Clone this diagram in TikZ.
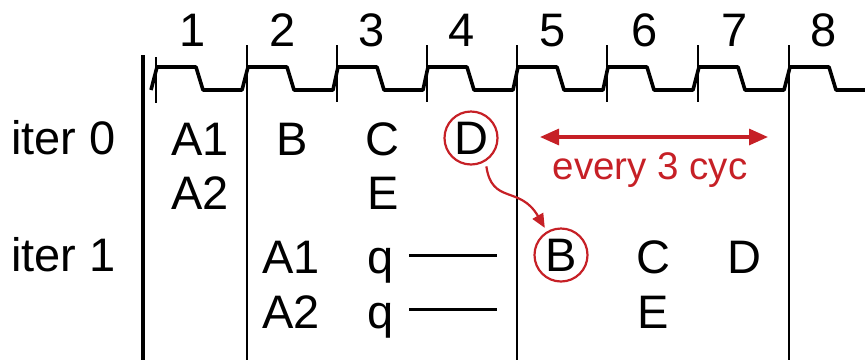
\documentclass[tikz,border=0pt]{standalone}
\usepackage{fontspec}
\setmainfont{Liberation Sans}
\usetikzlibrary{arrows.meta}
\definecolor{accent}{RGB}{198,32,38}

\begin{document}
\begin{tikzpicture}[x=1pt,y=-1pt,
  lbl/.style={inner sep=0pt, anchor=base, font=\fontsize{47}{56}\selectfont},
  lblw/.style={lbl, anchor=base west},
  note/.style={inner sep=0pt, anchor=base, text=accent, font=\fontsize{38.5}{46}\selectfont},
  wave/.style={line width=3.6pt, line join=round},
  tickline/.style={line width=1.6pt},
  divider/.style={line width=2pt},
  axis/.style={line width=3.8pt},
  ring/.style={circle, draw=accent, line width=2.2pt, minimum size=53pt, inner sep=0pt,
               font=\fontsize{47}{56}\selectfont},
  stub/.style={line width=3pt},
  span/.style={draw=accent, line width=3.2pt, {Triangle[length=19pt,width=16pt]}-{Triangle[length=19pt,width=16pt]}},
  hop/.style={draw=accent, line width=2.2pt, -{Triangle[length=14pt,width=12pt]}}
]
\useasboundingbox (0,0) rectangle (865,360);

% cycle numbers
\foreach \n/\cx in {1/193,2/283,3/372,4/462,5/553,6/645,7/735,8/824}
  \node[lbl] (cyc\n) at (\cx,46) {\n};

% clock waveform
\draw[wave] (151,90)
  \foreach \t in {156,247,337,427,517,607,698}
    { -- (\t+1,67) -- (\t+40,67) -- (\t+47,90) -- (\t+86,90) }
  -- (790,67) -- (829,67) -- (836,90) -- (865,90);

% clock edge ticks
\draw[tickline] (156,57) -- (156,103);
\foreach \t in {337,427,607,698}
  \draw[tickline] (\t,45) -- (\t,102);

% time axis and stage dividers
\draw[axis] (143,55) -- (143,360);
\foreach \t in {247,517,789}
  \draw[divider] (\t,45) -- (\t,360);

% row headings
\node[lblw] (it0) at (11,154) {iter 0};
\node[lblw] (it1) at (11,271) {iter 1};

% iteration 0
\node[lblw] (a1i0) at (171,155) {A1};
\node[lblw] (a2i0) at (171,209) {A2};
\node[lbl] (bi0) at (292,155) {B};
\node[lbl] (ci0) at (382,155) {C};
\node[lbl] (ei0) at (383,209) {E};
\node[ring] (di0) at (471,138) {D};

% iteration 1
\node[lblw] (a1i1) at (262,273) {A1};
\node[lblw] (a2i1) at (262,328) {A2};
\node[lbl] (q1) at (381,273) {q};
\node[lbl] (q2) at (381,328) {q};
\coordinate (q1end) at (497,255);
\coordinate (q2end) at (497,309);
\draw[stub, shorten <=15pt] (q1.east |- q1end) -- (q1end);
\draw[stub, shorten <=15pt] (q2.east |- q2end) -- (q2end);
\node[ring] (bi1) at (561,255) {B};
\node[lbl] (ci1) at (653,273) {C};
\node[lbl] (di1) at (744,273) {D};
\node[lbl] (ei1) at (653,328) {E};

% initiation interval
\coordinate (spanl) at (540,137);
\coordinate (spanr) at (768,137);
\draw[span] (spanl) -- (spanr);
\node[note] (every) at (650,179) {every 3 cyc};

% dependency from D to the next B
\draw[hop, shorten <=5pt, shorten >=4pt] (di0.-58) .. controls (492,205) and (520,185) .. (bi1.121);
\end{tikzpicture}
\end{document}
